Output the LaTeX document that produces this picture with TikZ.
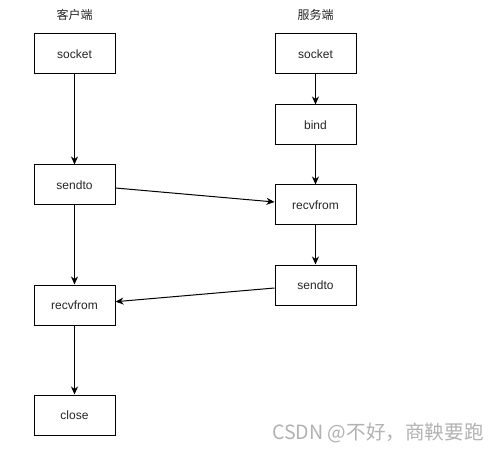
\documentclass[tikz,border=0pt]{standalone}
\usepackage{fontspec}
\setmainfont{Liberation Sans}
\newfontfamily\cjk{Noto Sans CJK SC}
\usetikzlibrary{arrows.meta}
\begin{document}
\begin{tikzpicture}[thick, line width=1pt, >={Stealth[length=8pt,width=7pt,inset=2.5pt]},
	step box/.style = {draw,rectangle,minimum width=81pt,minimum height=40pt,inner sep=0pt,font=\fontsize{12}{14}\selectfont,text=black!85},
	head/.style = {font=\cjk\fontsize{12}{14}\selectfont,text=black!85}]
	\useasboundingbox[fill=white] (0,0) rectangle (499pt,-452pt);
	%Client side
	\node[step box] (1) at (74.5pt,-54pt) {socket};
	\node[head] (0) [node distance={39pt},above of=1] {客户端};
	\node[step box] (2) [node distance={131pt},below of=1] {sendto};
	\node[step box] (3) [node distance={120pt},below of=2] {recvfrom};
	\node[step box] (4) [node distance={110pt},below of=3] {close};
	%Server side
	\node[step box] (5) [node distance={241pt},right of=1] {socket};
	\node[head] (9) [node distance={39pt},above of=5] {服务端};
	\node[step box] (6) [node distance={71pt},below of=5] {bind};
	\node[step box] (7) [node distance={80pt},below of=6] {recvfrom};
	\node[step box] (8) [node distance={80pt},below of=7] {sendto};

	%Calls on each side
	\draw[->] (1) -- (2); %socket -> sendto
	\draw[->] (2) -- (3); %sendto -> recvfrom
	\draw[->] (3) -- (4); %recvfrom -> close
	\draw[->] (5) -- (6); %socket -> bind
	\draw[->] (6) -- (7); %bind -> recvfrom
	\draw[->] (7) -- (8); %recvfrom -> sendto

	%Datagrams between the two
	\draw[->] ([yshift=-3pt]2.east) -- ([yshift=3pt]7.west);
	\draw[->] ([yshift=-3pt]8.west) -- ([yshift=3.3pt]3.east);

	%Watermark
	\node[font=\cjk\fontsize{19.6}{22}\selectfont,text=black!30] (10) at (378pt,-433pt) {CSDN @不好，商鞅要跑};
\end{tikzpicture}
\end{document}
